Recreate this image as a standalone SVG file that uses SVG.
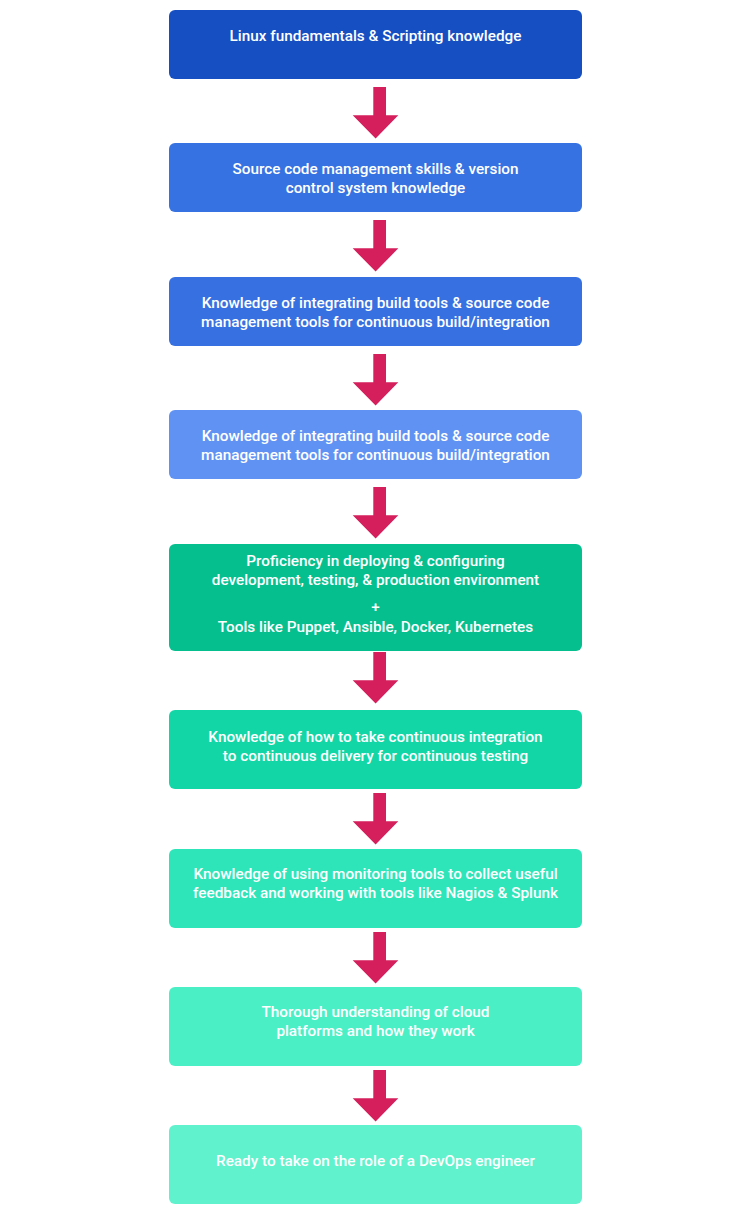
<svg xmlns="http://www.w3.org/2000/svg" xmlns:xlink="http://www.w3.org/1999/xlink" width="750" height="1231" viewBox="0 0 750 1231">
<style>
.box{rx:6px;ry:6px}
.t{font-family:Roboto,"Liberation Sans",sans-serif;font-weight:500;font-size:15.3px;fill:#ffffff;text-anchor:middle}
.arr{fill:#D51E5C}
</style>
<defs>
<polygon id="arrow" points="373.3,0 386,0 386,28.3 398.3,28.3 375.6,51.6 352.7,28.3 373.3,28.3"/>
</defs>
<rect width="750" height="1231" fill="#ffffff"/>
<g id="connectors" class="arr">
<use xlink:href="#arrow" y="87"/>
<use xlink:href="#arrow" y="220"/>
<use xlink:href="#arrow" y="354"/>
<use xlink:href="#arrow" y="487"/>
<use xlink:href="#arrow" y="652"/>
<use xlink:href="#arrow" y="793"/>
<use xlink:href="#arrow" y="932"/>
<use xlink:href="#arrow" y="1070"/>
</g>
<g id="n1"><rect class="box" x="169" y="10" width="413" height="69" fill="#164FC2"/>
<text class="t" x="375.5" y="41">Linux fundamentals &amp; Scripting knowledge</text></g>
<g id="n2"><rect class="box" x="169" y="143" width="413" height="69" fill="#3672E1"/>
<text class="t" x="375.5" y="174">Source code management skills &amp; version</text>
<text class="t" x="375.5" y="193">control system knowledge</text></g>
<g id="n3"><rect class="box" x="169" y="277" width="413" height="69" fill="#3770E1"/>
<text class="t" x="375.5" y="308">Knowledge of integrating build tools &amp; source code</text>
<text class="t" x="375.5" y="327">management tools for continuous build/integration</text></g>
<g id="n4"><rect class="box" x="169" y="410" width="413" height="69" fill="#5F92F3"/>
<text class="t" x="375.5" y="441">Knowledge of integrating build tools &amp; source code</text>
<text class="t" x="375.5" y="460">management tools for continuous build/integration</text></g>
<g id="n5"><rect class="box" x="169" y="544" width="413" height="107" fill="#06BF8F"/>
<text class="t" x="375.5" y="566">Proficiency in deploying &amp; configuring</text>
<text class="t" x="375.5" y="585">development, testing, &amp; production environment</text>
<text class="t" x="375.5" y="612">+</text>
<text class="t" x="375.5" y="632">Tools like Puppet, Ansible, Docker, Kubernetes</text></g>
<g id="n6"><rect class="box" x="169" y="710" width="413" height="79" fill="#12D6A5"/>
<text class="t" x="375.5" y="742">Knowledge of how to take continuous integration</text>
<text class="t" x="375.5" y="761">to continuous delivery for continuous testing</text></g>
<g id="n7"><rect class="box" x="169" y="849" width="413" height="79" fill="#2DE5B9"/>
<text class="t" x="375.5" y="879">Knowledge of using monitoring tools to collect useful</text>
<text class="t" x="375.5" y="898">feedback and working with tools like Nagios &amp; Splunk</text></g>
<g id="n8"><rect class="box" x="169" y="987" width="413" height="79" fill="#4BEFC6"/>
<text class="t" x="375.5" y="1017">Thorough understanding of cloud</text>
<text class="t" x="375.5" y="1036">platforms and how they work</text></g>
<g id="n9"><rect class="box" x="169" y="1125" width="413" height="79" fill="#60F2CD"/>
<text class="t" x="375.5" y="1166">Ready to take on the role of a DevOps engineer</text></g>
</svg>
